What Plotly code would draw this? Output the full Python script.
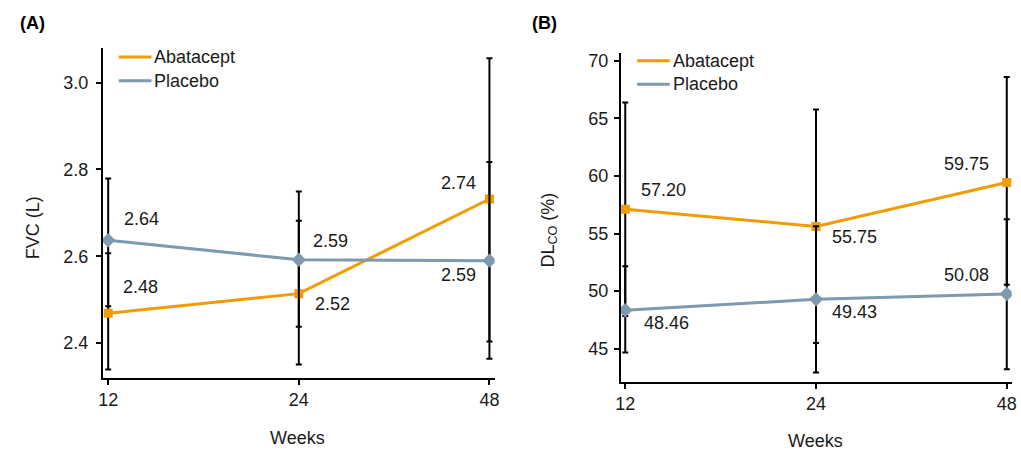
import plotly.graph_objects as go

# ---------------- data ----------------
weeks = ["12", "24", "48"]

fvc_abatacept = [2.469, 2.514, 2.732]
fvc_abatacept_up = [0.138, 0.168, 0.324]
fvc_abatacept_dn = [0.130, 0.163, 0.328]
fvc_abatacept_labels = ["2.48", "2.52", "2.74"]

fvc_placebo = [2.637, 2.592, 2.590]
fvc_placebo_up = [0.142, 0.157, 0.227]
fvc_placebo_dn = [0.152, 0.154, 0.226]
fvc_placebo_labels = ["2.64", "2.59", "2.59"]

dlco_abatacept = [57.11, 55.62, 59.43]
dlco_abatacept_up = [9.28, 10.16, 9.16]
dlco_abatacept_dn = [9.28, 10.12, 8.87]
dlco_abatacept_labels = ["57.20", "55.75", "59.75"]

dlco_placebo = [48.34, 49.29, 49.75]
dlco_placebo_up = [3.83, 6.35, 6.50]
dlco_placebo_dn = [3.67, 6.35, 6.53]
dlco_placebo_labels = ["48.46", "49.43", "50.08"]

fvc_ticks = [2.4, 2.6, 2.8, 3.0]
fvc_ticktext = ["2.4", "2.6", "2.8", "3.0"]
dlco_ticks = [45, 50, 55, 60, 65, 70]

series_names = ["Abatacept", "Placebo"]

# ---------------- style ----------------
ORANGE = "#F29B05"
GREY = "#7D9AAE"
FONT = "Liberation Sans, Arial, sans-serif"
TXT = "#1a1a1a"
W, H = 1021, 450

xpos = list(range(len(weeks)))  # equally spaced category positions

fig = go.Figure()


def add_series(y, up, dn, color, symbol, msize, name, xa, ya):
    fig.add_trace(go.Scatter(
        x=xpos, y=y, name=name, mode="lines+markers", showlegend=False,
        line=dict(color=color, width=3),
        marker=dict(symbol=symbol, size=msize, color=color),
        error_y=dict(type="data", symmetric=False, array=up, arrayminus=dn,
                     color="#000000", thickness=2, width=3),
        xaxis=xa, yaxis=ya,
    ))


add_series(fvc_abatacept, fvc_abatacept_up, fvc_abatacept_dn, ORANGE, "square", 9, "Abatacept", "x", "y")
add_series(fvc_placebo, fvc_placebo_up, fvc_placebo_dn, GREY, "diamond", 11, "Placebo", "x", "y")
add_series(dlco_abatacept, dlco_abatacept_up, dlco_abatacept_dn, ORANGE, "square", 9, "Abatacept", "x2", "y2")
add_series(dlco_placebo, dlco_placebo_up, dlco_placebo_dn, GREY, "diamond", 11, "Placebo", "x2", "y2")

# value labels anchored on data points with pixel offsets (dx right, dy up)
offsets_fvc_ab = [(32, 26), (34, -10), (-31, 16)]
offsets_fvc_pl = [(33, 21), (32, 19), (-31, -14)]
offsets_dl_ab = [(38, 19), (38, -11), (-40, 19)]
offsets_dl_pl = [(41, -13), (38, -13), (-40, 19)]

annotations = []
shapes = []


def add_labels(ys, labels, offs, xref, yref):
    for xv, yv, lab, (dx, dy) in zip(xpos, ys, labels, offs):
        annotations.append(dict(
            x=xv, y=yv, xref=xref, yref=yref, text=lab, showarrow=False,
            xshift=dx, yshift=dy, xanchor="center", yanchor="middle",
            font=dict(size=18, color=TXT, family=FONT),
        ))


add_labels(fvc_abatacept, fvc_abatacept_labels, offsets_fvc_ab, "x", "y")
add_labels(fvc_placebo, fvc_placebo_labels, offsets_fvc_pl, "x", "y")
add_labels(dlco_abatacept, dlco_abatacept_labels, offsets_dl_ab, "x2", "y2")
add_labels(dlco_placebo, dlco_placebo_labels, offsets_dl_pl, "x2", "y2")


def ptext(text, x, y, size=18, angle=0, bold=False, xanchor="center"):
    annotations.append(dict(
        text=f"<b>{text}</b>" if bold else text, x=x / W, y=1 - y / H,
        xref="paper", yref="paper", showarrow=False, textangle=angle,
        xanchor=xanchor, yanchor="middle",
        font=dict(size=size, color="#000000" if bold else TXT, family=FONT),
    ))


ptext("(A)", 26.5, 22, 18, bold=True)
ptext("(B)", 544, 22, 18, bold=True)
ptext("FVC (L)", 28, 227, 18, angle=-90)
ptext("DL<sub>CO</sub> (%)", 549, 230, 18, angle=-90)
ptext("Weeks", 295, 438, 18)
ptext("Weeks", 818, 441, 18)


# manual legends (line swatch + label)
def legend(x0, y0, dy):
    for i, (name, col) in enumerate(zip(series_names, [ORANGE, GREY])):
        yy = y0 + i * dy
        shapes.append(dict(type="line", xref="paper", yref="paper",
                           x0=x0 / W, x1=(x0 + 33) / W, y0=1 - yy / H, y1=1 - yy / H,
                           line=dict(color=col, width=3)))
        ptext(name, x0 + 34, yy, 18, xanchor="left")


legend(114, 56, 24)
legend(638, 60, 23.5)

axis_common = dict(
    showline=True, linecolor="#000000", linewidth=2, ticks="outside",
    ticklen=5, tickwidth=2, tickcolor="#000000", showgrid=False, zeroline=False,
    tickfont=dict(size=18, color=TXT, family=FONT),
)

fig.update_layout(
    width=W, height=H,
    margin=dict(l=0, r=0, t=0, b=0),
    paper_bgcolor="white", plot_bgcolor="white",
    font=dict(family=FONT, size=18, color=TXT),
    annotations=annotations, shapes=shapes, showlegend=False,
    xaxis=dict(domain=[98 / W, 494 / W], anchor="y",
               range=[-0.0275, 2.0275], tickvals=xpos, ticktext=weeks, **axis_common),
    yaxis=dict(domain=[1 - 377.7 / H, 1 - 47 / H], anchor="x",
               range=[2.32, 3.08], tickvals=fvc_ticks, ticktext=fvc_ticktext,
               ticklabelstandoff=4, **axis_common),
    xaxis2=dict(domain=[621.7 / W, 1016.7 / W], anchor="y2",
                range=[-0.0223, 2.026], tickvals=xpos, ticktext=weeks, **axis_common),
    yaxis2=dict(domain=[1 - 381.7 / H, 1 - 51.7 / H], anchor="x2",
                range=[42.12, 70.72], tickvals=dlco_ticks, ticklabelstandoff=2,
                **axis_common),
)

fig.write_html("out.html")
